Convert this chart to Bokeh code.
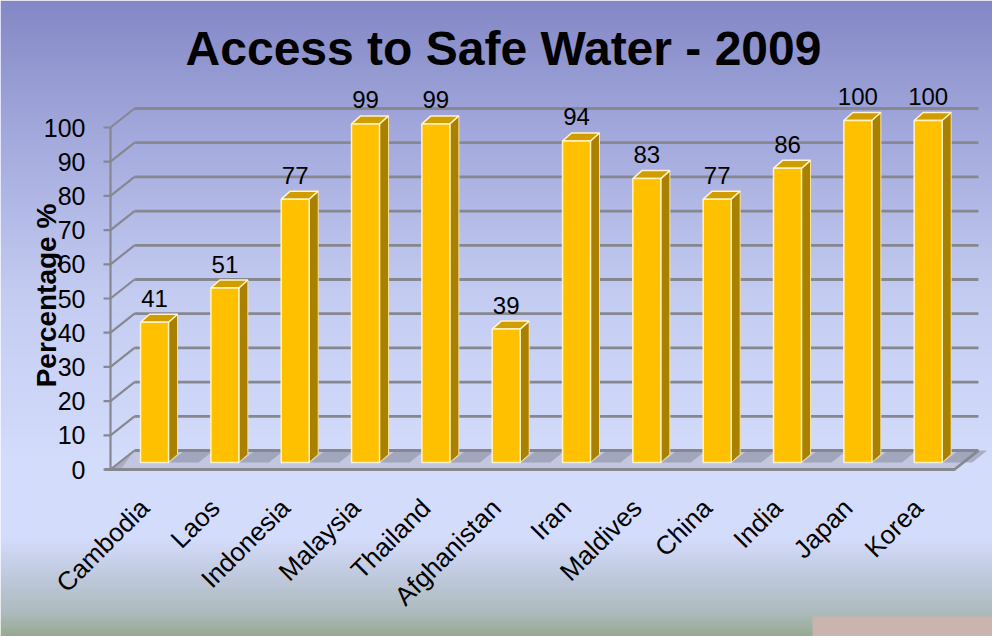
import numpy as np
from bokeh.plotting import figure
from bokeh.models import Range1d
from bokeh.embed import file_html
from bokeh.resources import INLINE
from bokeh.core.properties import value

# ---------------- data ----------------
countries = ["Cambodia", "Laos", "Indonesia", "Malaysia", "Thailand", "Afghanistan",
             "Iran", "Maldives", "China", "India", "Japan", "Korea"]
access = [41, 51, 77, 99, 99, 39, 94, 83, 77, 86, 100, 100]
y_ticks = [0, 10, 20, 30, 40, 50, 60, 70, 80, 90, 100]
chart_title = "Access to Safe Water - 2009"
y_title = "Percentage %"

# ---------------- layout constants ----------------
W, H = 992, 636
PXX = 70.33          # px per category
PXY = 3.42           # px per percent
X0_PX = 110          # front y-axis position inside figure
Y0_PX = 469          # zero line position inside figure (from top)
FONT = value("Liberation Sans")


def dxp(px):
    return px / PXX


def dyp(px):
    return px / PXY


n = len(countries)
DX, DY = dxp(24), dyp(19)          # depth of the 3D box
F = 0.37                            # bar front position in depth
SX, SY = F * DX, F * DY
BW = dxp(28)                        # bar front width
BDX, BDY = dxp(9), dyp(8)           # bar depth

xr = Range1d(-X0_PX / PXX, (W - X0_PX) / PXX)
yr = Range1d(-(H - Y0_PX) / PXY, Y0_PX / PXY)

p = figure(width=W, height=H, x_range=xr, y_range=yr, output_backend="svg",
           toolbar_location=None, x_axis_location=None, y_axis_location=None,
           min_border=0)
p.grid.visible = False
p.outline_line_color = None
p.border_fill_color = None

# ---------------- background gradient ----------------
stops_y = [0, 122, 292, 462, 537, 582, 612, 636]
stops_c = ["#8387c5", "#a0a6da", "#c3cbf1", "#d4dcfc", "#d4dcfc", "#bcc6d8", "#adbbbd", "#96a88f"]
rgb = np.array([[int(c[i:i + 2], 16) for i in (1, 3, 5)] for c in stops_c], dtype=float)
step = 2
tops, bots, cols = [], [], []
for py in range(0, H, step):
    mid = py + step / 2
    col = [int(round(np.interp(mid, stops_y, rgb[:, k]))) for k in range(3)]
    cols.append("#%02x%02x%02x" % tuple(col))
    tops.append((Y0_PX - py) / PXY)
    bots.append((Y0_PX - py - step - 0.5) / PXY)
p.quad(left=xr.start, right=xr.end, top=tops, bottom=bots, fill_color=cols, line_color=None)

# pink block bottom right
p.quad(left=[(820 - 8 - X0_PX) / PXX], right=[xr.end], top=[-(624 - 8 - Y0_PX) / PXY],
       bottom=[yr.start], fill_color="#c9b5ad", line_color=None)

GRID = "#87878f"

# ---------------- floor ----------------
p.patch([0, n, n + DX, DX], [0, 0, DY, DY], fill_color="#c2c7df", line_color=None)
# bar shadows on floor
for i in range(n):
    c = i + 0.5
    r = c + SX + BW / 2
    rem = (DY - SY) / DY * DX
    p.patch([r + dxp(1), r + dxp(30), r + dxp(30) + rem, r + dxp(1) + rem],
            [SY, SY, DY, DY], fill_color="#8c90a6", fill_alpha=0.6, line_color=None)
p.patch([0, dxp(10), DX, 0], [0, 0, DY, DY * 0.05], fill_color="#9094aa", fill_alpha=0.5, line_color=None)

# back wall horizontal gridlines
p.multi_line([[DX, n + DX] for v in y_ticks], [[v + DY, v + DY] for v in y_ticks],
             line_color=GRID, line_width=2.8)
# left wall diagonals
p.multi_line([[0, DX] for v in y_ticks], [[v, v + DY] for v in y_ticks],
             line_color=GRID, line_width=2.2)
# floor front & right edge
p.line([-dxp(6), n, n + DX], [0, 0, DY], line_color=GRID, line_width=2.8)
# y axis line and ticks
p.line([0, 0], [0, y_ticks[-1]], line_color=GRID, line_width=2.2)
p.multi_line([[-dxp(7), 0] for v in y_ticks], [[v, v] for v in y_ticks],
             line_color=GRID, line_width=2.2)

# ---------------- bars ----------------
for i, v in enumerate(access):
    c = i + 0.5
    l = c + SX - BW / 2
    r = c + SX + BW / 2
    b = SY
    t = v + SY
    # side
    p.patch([r, r + BDX, r + BDX, r], [b, b + BDY, t + BDY, t],
            fill_color="#a98000", line_color="#f5e2a0", line_width=1)
    # top
    p.patch([l, r, r + BDX, l + BDX], [t, t, t + BDY, t + BDY],
            fill_color="#cf9d00", line_color="#fff4cc", line_width=1.5)
    # front
    p.quad(left=[l], right=[r], bottom=[b], top=[t],
           fill_color="#ffc000", line_color="#fff2c4", line_width=1.5)

# value labels
p.text(x=[i + 0.5 + SX for i in range(n)], y=[v + SY + dyp(24) for v in access],
       text=[str(v) for v in access], text_align="center", text_baseline="middle",
       text_font=FONT, text_font_size="24px", text_color="#000000")

# y tick labels
p.text(x=[-dxp(25)] * len(y_ticks), y=y_ticks, text=[str(v) for v in y_ticks],
       text_align="right", text_baseline="middle",
       text_font=FONT, text_font_size="25px", text_color="#000000")

# category labels
p.text(x=[i + 0.5 - dxp(1) for i in range(n)], y=[-dyp(34)] * n, text=countries,
       angle=np.pi / 4, text_align="right", text_baseline="middle",
       text_font=FONT, text_font_size="26px", text_color="#000000")

# y axis title
p.text(x=[-dxp(64)], y=[dyp(174)], text=[y_title], angle=np.pi / 2,
       text_align="center", text_baseline="middle", text_font=FONT,
       text_font_style="bold", text_font_size="28px", text_color="#000000")

# chart title
p.text(x=[dxp(393)], y=[dyp(421)], text=[chart_title], text_align="center",
       text_baseline="middle", text_font=FONT, text_font_style="bold",
       text_font_size="48px", text_color="#000000")

open("out.html", "w").write(file_html(p, INLINE))
